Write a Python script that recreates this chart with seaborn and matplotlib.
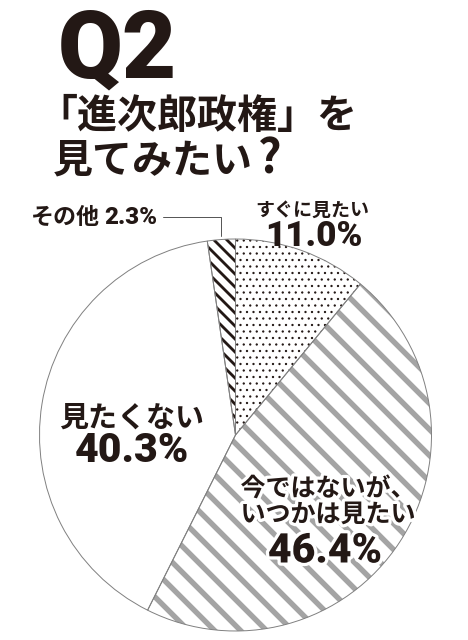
"""
「進次郎政権」を見てみたい? 円グラフ
"""

import matplotlib
matplotlib.use("Agg")
import matplotlib.pyplot as plt
import matplotlib.patheffects as pe
from matplotlib.lines import Line2D
import numpy as np
import seaborn as sns

# データ
labels = ["すぐに見たい", "今ではないが、\nいつかは見たい", "見たくない", "その他"]
values = [11.0, 46.4, 40.3, 2.3]
pct_text = ["11.0%", "46.4%", "40.3%", "2.3%"]

DPI = 78
W, H = 468, 640
INK = "#231815"

sns.set_theme(style="white")
plt.rcParams["font.family"] = ["Noto Sans CJK JP", "DejaVu Sans"]
JP = ["Noto Sans CJK JP", "DejaVu Sans"]
NUM = ["Roboto", "Noto Sans CJK JP", "DejaVu Sans"]


def fs(em_px):
    """ピクセルの字サイズをポイントに変換"""
    return em_px * 72 / DPI


def fx(x):
    return x / W


def fy(y):
    return 1 - y / H


fig = plt.figure(figsize=(W / DPI, H / DPI), dpi=DPI)
fig.patch.set_facecolor("white")

# 円の中心と半径(ピクセル)
cx, cy, r = 235.5, 435, 196
ax = fig.add_axes([fx(cx - r), fy(cy + r), 2 * r / W, 2 * r / H])

wedges, _ = ax.pie(values, startangle=90, counterclock=False, radius=1.0)
styles = [("..", INK, 0.9), ("\\", "#a4a4a4", 5.0), ("", "white", 0), ("\\\\", INK, 2.6)]
for w, (hatch, col, hlw) in zip(wedges, styles):
    w.set_facecolor("white")
    w.set_edgecolor(col)
    w.set_linewidth(0)
    w.set_hatch(hatch)
    if hatch and hasattr(w, "set_hatch_linewidth"):
        w.set_hatch_linewidth(hlw)

# 輪郭
ax.pie(values, startangle=90, counterclock=False, radius=1.0,
       wedgeprops=dict(facecolor="none", edgecolor="#808080", linewidth=0.9))
ax.set_xlim(-1, 1)
ax.set_ylim(-1, 1)
ax.set_aspect("equal")
ax.axis("off")

# タイトル
fig.text(fx(58), fy(52), "Q2", fontsize=fs(94), fontweight="black", family=NUM,
         color=INK, ha="left", va="center")
fig.text(fx(37), fy(116), "「進次郎政権」を", fontsize=fs(40), fontweight="bold",
         family=JP, color=INK, ha="left", va="center")
fig.text(fx(53), fy(161), "見てみたい", fontsize=fs(40), fontweight="bold",
         family=JP, color=INK, ha="left", va="center")
fig.text(fx(258), fy(160), "?", fontsize=fs(46), fontweight="bold",
         family=JP, color=INK, ha="left", va="center")

glow = [pe.withStroke(linewidth=6, foreground="white")]

# ラベル
fig.text(fx(312), fy(210), labels[0], fontsize=fs(19), fontweight="bold",
         family=JP, color=INK, ha="center", va="center")
fig.text(fx(314), fy(236), pct_text[0], fontsize=fs(35), fontweight="black",
         family=NUM, color=INK, ha="center", va="center")

fig.text(fx(328), fy(502), labels[1], fontsize=fs(25), fontweight="bold",
         family=JP, color=INK, ha="center", va="center", linespacing=1.1,
         path_effects=glow)
fig.text(fx(325), fy(551), pct_text[1], fontsize=fs(41), fontweight="black",
         family=NUM, color=INK, ha="center", va="center", path_effects=glow)

fig.text(fx(132), fy(418), labels[2], fontsize=fs(29), fontweight="bold",
         family=JP, color=INK, ha="center", va="center")
fig.text(fx(132), fy(451), pct_text[2], fontsize=fs(41), fontweight="black",
         family=NUM, color=INK, ha="center", va="center")

fig.text(fx(31), fy(217), labels[3], fontsize=fs(23), fontweight="bold",
         family=JP, color=INK, ha="left", va="center")
fig.text(fx(157), fy(217), pct_text[3], fontsize=fs(24), fontweight="black",
         family=NUM, color=INK, ha="right", va="center")

# その他の引き出し線
w = wedges[3]
mid = np.deg2rad((w.theta1 + w.theta2) / 2)
px_end, py_end = ax.transData.transform((np.cos(mid), np.sin(mid) * 1.02))
x_end = px_end / W
y_end = py_end / H
fig.add_artist(Line2D([fx(163), x_end, x_end], [fy(217), fy(217), y_end],
                      color="#555555", linewidth=0.9, transform=fig.transFigure))

fig.savefig("out.png", dpi=DPI, facecolor="white")
